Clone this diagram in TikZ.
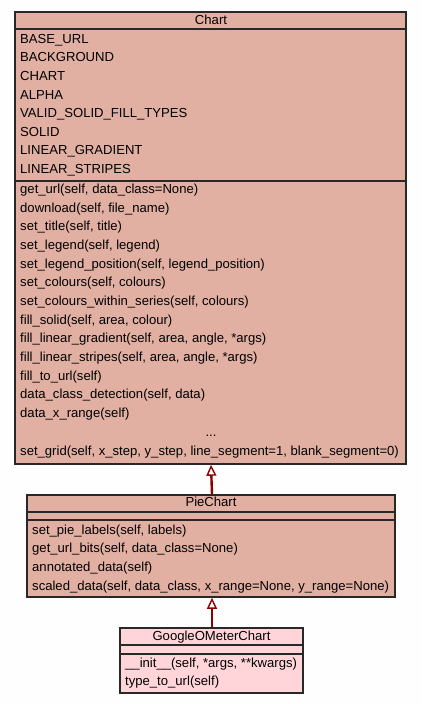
\documentclass[tikz,border=0pt]{standalone}
\usepackage{fontspec}
\setmainfont{Liberation Sans}
\usetikzlibrary{arrows.meta}
\definecolor{chartfill}{RGB}{225,176,163}
\definecolor{leaffill}{RGB}{255,213,217}
\definecolor{boxline}{RGB}{40,40,40}
\definecolor{inherit}{RGB}{139,0,0}
\definecolor{bg}{RGB}{253,254,253}
\begin{document}
\begin{tikzpicture}[x=1pt,y=-1pt,
  classbox/.style={draw=boxline,line width=1.6pt,inner sep=0,outer sep=0,rectangle},
  sep/.style={draw=boxline,line width=1.6pt},
  member/.style={anchor=base west,inner sep=0,font=\fontsize{13.1}{15}\selectfont},
  ctitle/.style={anchor=base,inner sep=0,font=\fontsize{13.1}{15}\selectfont},
  inh/.style={draw=inherit,line width=2.4pt,-{Triangle[open,length=11pt,width=10pt,line width=1.4pt,fill=white]}}]
\fill[bg] (0,0) rectangle (421,704);
\useasboundingbox (0,0) rectangle (421,704);
% Chart
\fill[chartfill] (15,12) rectangle (406,464);
\draw[sep] (15,29) -- (406,29);
\draw[sep] (15,181) -- (406,181);
\draw[classbox] (15,12) rectangle (406,464);
\coordinate (chartS) at (211,464.8);
\node[ctitle] (chartT) at (211,24) {Chart};
\foreach \t [count=\i from 0] in {{BASE\_URL},{BACKGROUND},{CHART},{ALPHA},{VALID\_SOLID\_FILL\_TYPES},{SOLID},{LINEAR\_GRADIENT},{LINEAR\_STRIPES}}
  \node[member] (ca\i) at (20,43.3+18.6*\i) {\t};
\foreach \t [count=\i from 0] in {{get\_url(self, data\_class=None)},{download(self, file\_name)},{set\_title(self, title)},{set\_legend(self, legend)},{set\_legend\_position(self, legend\_position)},{set\_colours(self, colours)},{set\_colours\_within\_series(self, colours)},{fill\_solid(self, area, colour)},{fill\_linear\_gradient(self, area, angle, *args)},{fill\_linear\_stripes(self, area, angle, *args)},{fill\_to\_url(self)},{data\_class\_detection(self, data)},{data\_x\_range(self)}}
  \node[member] (cm\i) at (20,193.5+18.68*\i) {\t};
\node[ctitle] (cdots) at (211,436.5) {...};
\node[member] (cgrid) at (20,455) {set\_grid(self, x\_step, y\_step, line\_segment=1, blank\_segment=0)};
% PieChart
\fill[chartfill] (27,495) rectangle (395,597);
\draw[sep] (27,512) -- (395,512);
\draw[sep] (27,520) -- (395,520);
\draw[classbox] (27,495) rectangle (395,597);
\coordinate (pieN) at (212,494.2);
\coordinate (pieS) at (212,597.8);
\node[ctitle] (pieT) at (211,506) {PieChart};
\foreach \t [count=\i from 0] in {{set\_pie\_labels(self, labels)},{get\_url\_bits(self, data\_class=None)},{annotated\_data(self)},{scaled\_data(self, data\_class, x\_range=None, y\_range=None)}}
  \node[member] (pm\i) at (32,534+18.67*\i) {\t};
% GoogleOMeterChart
\fill[leaffill] (120,628) rectangle (303,693);
\draw[sep] (120,645) -- (303,645);
\draw[sep] (120,654) -- (303,654);
\draw[classbox] (120,628) rectangle (303,693);
\coordinate (gomN) at (212,627.2);
\node[ctitle] (gomT) at (211.5,640) {GoogleOMeterChart};
\node[member] (gm0) at (125,667) {\_\_init\_\_(self, *args, **kwargs)};
\node[member] (gm1) at (125,685.5) {type\_to\_url(self)};
% inheritance
\draw[inh] (pieN) -- (chartS);
\draw[inh] (gomN) -- (pieS);
\end{tikzpicture}
\end{document}
